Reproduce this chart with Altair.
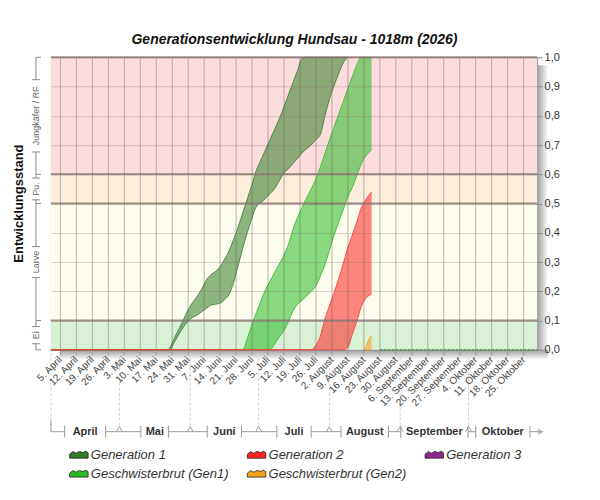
import altair as alt
import pandas as pd

W, H = 487, 293

# ---------------- data ----------------
x_domain = ["2026-04-01", "2026-10-31"]
week_ticks = ["2026-04-05", "2026-04-12", "2026-04-19", "2026-04-26", "2026-05-03", "2026-05-10",
              "2026-05-17", "2026-05-24", "2026-05-31", "2026-06-07", "2026-06-14", "2026-06-21",
              "2026-06-28", "2026-07-05", "2026-07-12", "2026-07-19", "2026-07-26", "2026-08-02",
              "2026-08-09", "2026-08-16", "2026-08-23", "2026-08-30", "2026-09-06", "2026-09-13",
              "2026-09-20", "2026-09-27", "2026-10-04", "2026-10-11", "2026-10-18", "2026-10-25"]
month_names = ["Januar", "Februar", "März", "April", "Mai", "Juni", "Juli", "August",
               "September", "Oktober", "November", "Dezember"]
month_labels = ["April", "Mai", "Juni", "Juli", "August", "September", "Oktober"]
month_starts = ["2026-04-01", "2026-05-01", "2026-06-01", "2026-07-01", "2026-08-01", "2026-09-01", "2026-10-01"]
month_ends = ["2026-05-01", "2026-06-01", "2026-07-01", "2026-08-01", "2026-09-01", "2026-10-01", "2026-10-31"]

y_ticks = [0, 0.1, 0.2, 0.3, 0.4, 0.5, 0.6, 0.7, 0.8, 0.9, 1.0]
major_lines = [0.1, 0.5, 0.6, 1.0]

band_names = ["Ei", "Larve", "Pu.", "Jungkäfer / RF"]
band_lo = [0.0, 0.1, 0.5, 0.6]
band_hi = [0.1, 0.5, 0.6, 1.0]
band_colors = ["#d9f1d4", "#fdfdee", "#fdeedb", "#fcdcdc"]

series_names = ["Generation 1", "Generation 2", "Generation 3",
                "Geschwisterbrut (Gen1)", "Geschwisterbrut (Gen2)"]
series_colors = ["#2d7d25", "#ff2222", "#8e2a8e", "#28ba24", "#f7a21e"]
series_lines = ["#3f7d38", "#ff3636", "#8e2a8e", "#38b834", "#eaa020"]

gen1_dates = ["2026-04-01", "2026-05-22", "2026-05-23", "2026-05-25", "2026-05-27", "2026-05-29", "2026-05-31",
              "2026-06-02", "2026-06-04", "2026-06-06", "2026-06-08", "2026-06-10", "2026-06-12", "2026-06-14",
              "2026-06-16", "2026-06-18", "2026-06-20", "2026-06-22", "2026-06-24", "2026-06-26", "2026-06-28",
              "2026-06-30", "2026-07-02", "2026-07-04", "2026-07-06", "2026-07-08", "2026-07-10", "2026-07-12",
              "2026-07-14", "2026-07-16", "2026-07-18", "2026-07-20", "2026-07-22", "2026-07-24", "2026-07-26",
              "2026-07-28", "2026-07-30", "2026-08-01", "2026-08-03", "2026-08-05", "2026-08-07", "2026-08-09"]
gen1_upper = [0, 0, 0.006, 0.039, 0.07, 0.102, 0.135, 0.161, 0.182, 0.207, 0.238, 0.256, 0.267, 0.283,
              0.309, 0.338, 0.377, 0.419, 0.468, 0.515, 0.563, 0.614, 0.649, 0.684, 0.719, 0.754, 0.789,
              0.829, 0.871, 0.913, 0.954, 0.996, 1, 1, 1, 1, 1, 1, 1, 1, 1, 1]
gen1_lower = [0, 0, 0, 0.025, 0.052, 0.077, 0.097, 0.11, 0.119, 0.13, 0.141, 0.152, 0.156, 0.159,
              0.171, 0.188, 0.229, 0.287, 0.346, 0.4, 0.449, 0.49, 0.504, 0.517, 0.534, 0.551, 0.577,
              0.604, 0.619, 0.636, 0.654, 0.673, 0.687, 0.70, 0.718, 0.735, 0.798, 0.856, 0.902, 0.943, 0.98, 1.0]

sib1_dates = ["2026-04-01", "2026-06-24", "2026-06-26", "2026-06-28", "2026-06-30", "2026-07-02", "2026-07-04",
              "2026-07-06", "2026-07-08", "2026-07-10", "2026-07-12", "2026-07-14", "2026-07-16", "2026-07-18",
              "2026-07-20", "2026-07-22", "2026-07-24", "2026-07-26", "2026-07-28", "2026-07-30", "2026-08-01",
              "2026-08-03", "2026-08-05", "2026-08-07", "2026-08-09", "2026-08-11", "2026-08-13", "2026-08-15",
              "2026-08-17", "2026-08-19T12:00:00Z"]
sib1_upper = [0, 0, 0.038, 0.085, 0.127, 0.167, 0.206, 0.235, 0.264, 0.293, 0.322, 0.36, 0.41, 0.453,
              0.487, 0.519, 0.55, 0.583, 0.624, 0.671, 0.717, 0.761, 0.804, 0.848, 0.891, 0.933, 0.975, 1, 1, 1]
sib1_lower = [0, 0, 0, 0, 0, 0, 0, 0, 0.02, 0.043, 0.065, 0.095, 0.132, 0.155, 0.169, 0.184, 0.199,
              0.217, 0.251, 0.29, 0.34, 0.391, 0.435, 0.478, 0.521, 0.554, 0.595, 0.636, 0.663, 0.683]

gen2_dates = ["2026-04-01", "2026-07-24", "2026-07-26", "2026-07-28", "2026-07-30", "2026-08-01", "2026-08-03",
              "2026-08-05", "2026-08-07", "2026-08-09", "2026-08-11", "2026-08-13", "2026-08-15", "2026-08-17",
              "2026-08-19T12:00:00Z"]
gen2_upper = [0, 0, 0.015, 0.045, 0.105, 0.15, 0.195, 0.241, 0.293, 0.347, 0.392, 0.437, 0.486, 0.514, 0.54]
gen2_lower = [0, 0, 0, 0, 0, 0, 0, 0, 0, 0.007, 0.052, 0.098, 0.148, 0.176, 0.19]

sib2_dates = ["2026-08-16", "2026-08-17", "2026-08-18", "2026-08-19", "2026-08-19T12:00:00Z"]
sib2_upper = [0, 0.011, 0.029, 0.045, 0.045]
sib2_lower = [0, 0, 0, 0, 0]

forecast_dates = ["2026-08-23", "2026-10-31"]
forecast_values = [0, 0]

# ---------------- helpers ----------------
def ms(s):
    t = pd.Timestamp(s)
    if t.tzinfo is None:
        t = t.tz_localize("UTC")
    return int(t.value // 10**6)

dom0, dom1 = ms(x_domain[0]), ms(x_domain[1])
px_per_ms = W / (dom1 - dom0)

xscale = alt.Scale(type="utc", domain=[dom0, dom1], nice=False)
yscale = alt.Scale(domain=[0, 1], nice=False, zero=True)

month_arr = "[" + ",".join("'" + m + "'" for m in month_names) + "]"
FONT = "Liberation Sans"

x_axis = alt.Axis(values=[ms(d) for d in week_ticks], title=None, grid=True,
                  gridColor="#6e5a5a", gridOpacity=0.45, gridWidth=1,
                  labelExpr="utcdate(datum.value) + '. ' + " + month_arr + "[utcmonth(datum.value)]",
                  labelAngle=-45, labelAlign="right", labelBaseline="middle", labelPadding=3,
                  labelFont=FONT, labelFontSize=10, labelColor="#444", labelOverlap=False,
                  labelBound=False, labelFlush=False,
                  tickColor="#999", tickSize=5, domain=False, zindex=1)
y_axis = alt.Axis(values=y_ticks, orient="right", title=None, grid=True,
                  gridColor="#8a6a6a", gridOpacity=0.3, gridWidth=1,
                  labelExpr="replace(format(datum.value, '.1f'), '.', ',')",
                  labelFont=FONT, labelFontSize=11, labelColor="#333", labelPadding=2,
                  labelFlush=False, labelOverlap=False,
                  tickColor="#888", tickSize=5, domain=False, zindex=1)

color_scale = alt.Scale(domain=series_names, range=series_colors)
legend_path = "M-1,0.38 L-1,-0.05 L-0.65,-0.33 L-0.3,-0.15 L0.05,-0.35 L0.45,-0.22 L0.75,-0.38 L1,-0.2 L1,0.38 Z"
legend = alt.Legend(orient="none", legendX=18, legendY=388, columns=3, direction="horizontal",
                    columnPadding=17, rowPadding=2,
                    symbolType=legend_path, symbolSize=340, symbolStrokeColor="#222", symbolStrokeWidth=0.8,
                    symbolOpacity=1, labelFont=FONT, labelFontSize=13, labelFontStyle="italic",
                    labelColor="#333", labelOffset=2, labelLimit=200, title=None, padding=0)

def X(field):
    return alt.X(field, type="temporal", scale=xscale, axis=x_axis)

def Y(field):
    return alt.Y(field, type="quantitative", scale=yscale, axis=y_axis, stack=None)

one = pd.DataFrame({"a": [0]})

# ---------------- layers ----------------
layers = []

# shadows
layers.append(alt.Chart(one).mark_rect(color=alt.Gradient(
    gradient="linear", x1=0, x2=1, y1=0, y2=0,
    stops=[alt.GradientStop(color="#9c9c9c", offset=0), alt.GradientStop(color="#ffffff", offset=1)]
)).encode(x=alt.value(W), x2=alt.value(W + 11), y=alt.value(8), y2=alt.value(H + 9)))
layers.append(alt.Chart(one).mark_rect(color=alt.Gradient(
    gradient="linear", x1=0, x2=0, y1=0, y2=1,
    stops=[alt.GradientStop(color="#9c9c9c", offset=0), alt.GradientStop(color="#ffffff", offset=1)]
)).encode(x=alt.value(9), x2=alt.value(W + 11), y=alt.value(H), y2=alt.value(H + 10)))

# background bands
bands = pd.DataFrame({"name": band_names, "lo": band_lo, "hi": band_hi, "color": band_colors})
layers.append(alt.Chart(bands).mark_rect().encode(
    x=alt.value(0), x2=alt.value(W), y=Y("lo"), y2="hi", fill=alt.Fill("color:N", scale=None)))

# series
series_data = [
    ("Generation 1", gen1_dates, gen1_upper, gen1_lower),
    ("Geschwisterbrut (Gen1)", sib1_dates, sib1_upper, sib1_lower),
    ("Generation 2", gen2_dates, gen2_upper, gen2_lower),
    ("Geschwisterbrut (Gen2)", sib2_dates, sib2_upper, sib2_lower),
]
for name, dts, up, lo in series_data:
    df = pd.DataFrame({"date": dts, "upper": up, "lower": lo, "series": name})
    lc = series_lines[series_names.index(name)]
    base = alt.Chart(df)
    layers.append(base.mark_area(opacity=0.55, interpolate="monotone").encode(
        x=X("date"), y=Y("upper"), y2="lower",
        color=alt.Color("series:N", scale=color_scale, legend=legend)))
    layers.append(base.mark_line(color=lc, strokeWidth=1, opacity=0.85, interpolate="monotone").encode(
        x=X("date"), y=Y("upper")))
    layers.append(base.mark_line(color=lc, strokeWidth=1, opacity=0.85, interpolate="monotone").encode(
        x=X("date"), y=Y("lower")))

# forecast line on baseline
fc = pd.DataFrame({"date": forecast_dates, "v": forecast_values})
layers.append(alt.Chart(fc).mark_line(color="#3a8a3a", strokeWidth=1.2, strokeDash=[3, 1]).encode(
    x=X("date"), y=Y("v")))

# major horizontal lines
maj = pd.DataFrame({"v": major_lines})
layers.append(alt.Chart(maj).mark_rule(color="#8c7a74", strokeWidth=2, opacity=0.85).encode(
    x=alt.value(0), x2=alt.value(W), y=Y("v")))

# left stage brackets
BX = -15
brk_v, brk_h, brk_t = [], [], []
for nm, lo_, hi_ in zip(band_names, band_lo, band_hi):
    mid = (lo_ + hi_) / 2
    half = (2.3 * len(nm) + 4) / H
    brk_v.append({"y": hi_, "y2": mid + half})
    brk_v.append({"y": mid - half, "y2": lo_})
    brk_h.append({"y": mid + half, "x": BX - 4, "x2": BX + 4})
    brk_h.append({"y": mid - half, "x": BX - 4, "x2": BX + 4})
    brk_t.append({"y": mid, "t": nm})
for v in band_lo + [1.0]:
    brk_h.append({"y": v, "x": BX, "x2": BX + 5})
layers.append(alt.Chart(pd.DataFrame(brk_v)).mark_rule(color="#888", strokeWidth=1).encode(
    x=alt.value(BX), y=Y("y"), y2="y2"))
for row in brk_h:
    layers.append(alt.Chart(pd.DataFrame([row])).mark_rule(color="#888", strokeWidth=1).encode(
        x=alt.value(row["x"]), x2=alt.value(row["x2"]), y=Y("y")))
layers.append(alt.Chart(pd.DataFrame(brk_t)).mark_text(
    angle=270, font=FONT, fontSize=9, color="#666", align="center", baseline="middle").encode(
    x=alt.value(BX), y=Y("y"), text="t:N"))

# y title
layers.append(alt.Chart(one).mark_text(
    text="Entwicklungsstand", angle=270, font=FONT, fontSize=13, fontWeight="bold", color="#111",
    align="center", baseline="middle").encode(x=alt.value(-32), y=alt.value(H / 2)))

# chart title
layers.append(alt.Chart(one).mark_text(
    text="Generationsentwicklung Hundsau - 1018m (2026)", font=FONT, fontSize=14, fontWeight="bold",
    fontStyle="italic", color="#111", align="center", baseline="middle").encode(
    x=alt.value(W / 2 + 0.5), y=alt.value(-17)))

# month brackets below the axis
MY = 375
rows_seg, rows_cap, rows_lab, rows_dash, rows_notch = [], [], [], [], []
for i, (lab, s, e) in enumerate(zip(month_labels, month_starts, month_ends)):
    s_ms, e_ms = ms(s), ms(e)
    c = (s_ms + e_ms) / 2
    gap = (4 + 3.3 * len(lab)) / px_per_ms
    cl, cr = max(c - gap, s_ms), min(c + gap, e_ms)
    rows_seg.append({"a": s_ms, "b": cl})
    rows_seg.append({"a": cr, "b": e_ms + (4 / px_per_ms if i == len(month_labels) - 1 else 0)})
    rows_cap.append({"a": cl})
    rows_cap.append({"a": cr})
    rows_lab.append({"a": c, "t": lab})
    rows_dash.append({"a": s_ms})
    if i > 0:
        rows_notch.append({"a": s_ms - 3 / px_per_ms, "b": s_ms})
        rows_notch.append({"a": s_ms + 3 / px_per_ms, "b": s_ms})
GRAY = "#999"
layers.append(alt.Chart(pd.DataFrame(rows_dash)).mark_rule(color="#cfcfcf", strokeDash=[3, 2]).encode(
    x=X("a"), y=alt.value(H + 3), y2=alt.value(MY - 6)))
layers.append(alt.Chart(pd.DataFrame(rows_seg)).mark_rule(color=GRAY).encode(
    x=X("a"), x2="b", y=alt.value(MY)))
layers.append(alt.Chart(pd.DataFrame(rows_cap)).mark_rule(color=GRAY).encode(
    x=X("a"), y=alt.value(MY - 6), y2=alt.value(MY + 6)))
layers.append(alt.Chart(pd.DataFrame(rows_notch)).mark_rule(color=GRAY).encode(
    x=X("a"), x2="b", y=alt.value(MY), y2=alt.value(MY - 5)))
layers.append(alt.Chart(pd.DataFrame({"a": [ms(month_starts[0])]})).mark_rule(color=GRAY).encode(
    x=X("a"), y=alt.value(MY - 11), y2=alt.value(MY)))
layers.append(alt.Chart(pd.DataFrame({"a": [ms(month_ends[-1])]})).mark_point(
    shape="triangle-right", filled=True, size=40, color=GRAY, xOffset=4).encode(
    x=X("a"), y=alt.value(MY)))
layers.append(alt.Chart(pd.DataFrame(rows_lab)).mark_text(
    font=FONT, fontSize=11, fontWeight="bold", color="#333", align="center", baseline="middle").encode(
    x=X("a"), y=alt.value(MY), text="t:N"))

chart = alt.layer(*layers).properties(
    width=W, height=H,
    autosize=alt.AutoSizeParams(type="none"),
    padding={"left": 43, "top": 49, "right": 55, "bottom": 140},
    background="white",
).configure_view(stroke="#a09890", strokeWidth=1)

chart.save("out.html", embed_options={"renderer": "svg", "actions": False})
